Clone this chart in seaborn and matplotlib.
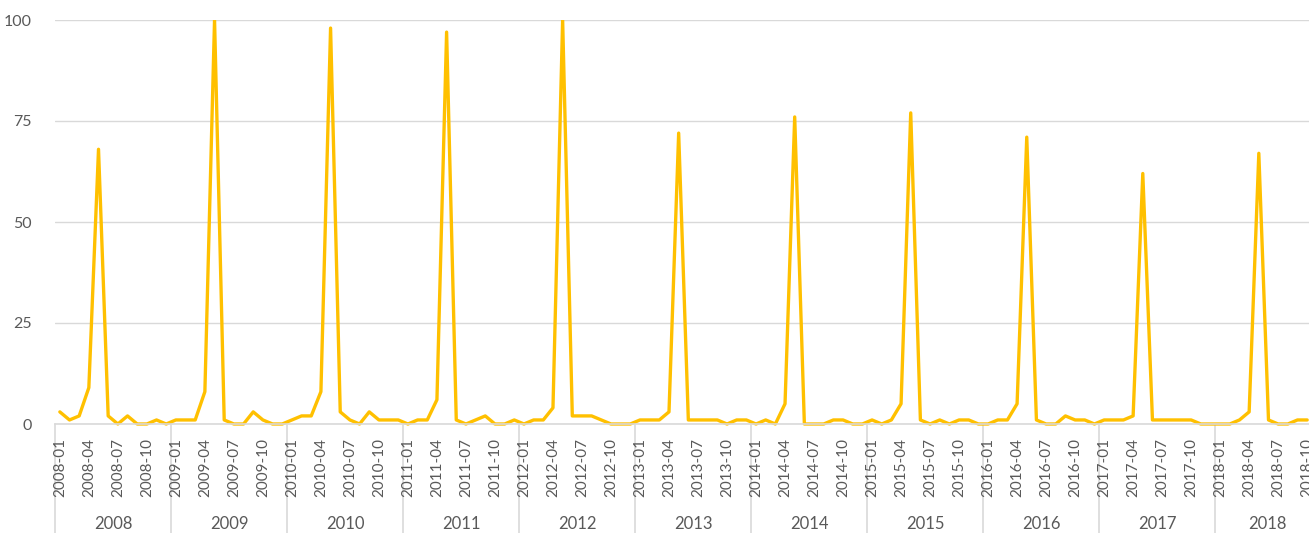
import matplotlib
matplotlib.use("Agg")
import matplotlib.pyplot as plt
from matplotlib.transforms import Bbox, TransformedBbox
import seaborn as sns
import pandas as pd

# monthly values, 2008-01 .. 2018-10
years = list(range(2008, 2019))
v2008 = [3, 1, 2, 9, 68, 2, 0, 2, 0, 0, 1, 0]
v2009 = [1, 1, 1, 8, 100, 1, 0, 0, 3, 1, 0, 0]
v2010 = [1, 2, 2, 8, 98, 3, 1, 0, 3, 1, 1, 1]
v2011 = [0, 1, 1, 6, 97, 1, 0, 1, 2, 0, 0, 1]
v2012 = [0, 1, 1, 4, 100, 2, 2, 2, 1, 0, 0, 0]
v2013 = [1, 1, 1, 3, 72, 1, 1, 1, 1, 0, 1, 1]
v2014 = [0, 1, 0, 5, 76, 0, 0, 0, 1, 1, 0, 0]
v2015 = [1, 0, 1, 5, 77, 1, 0, 1, 0, 1, 1, 0]
v2016 = [0, 1, 1, 5, 71, 1, 0, 0, 2, 1, 1, 0]
v2017 = [1, 1, 1, 2, 62, 1, 1, 1, 1, 1, 0, 0]
v2018 = [0, 0, 1, 3, 67, 1, 0, 0, 1, 1]
yticks = [0, 25, 50, 75, 100]

values = v2008 + v2009 + v2010 + v2011 + v2012 + v2013 + v2014 + v2015 + v2016 + v2017 + v2018
months = [f"{y}-{m:02d}" for y in years for m in range(1, 13)][:len(values)]
df = pd.DataFrame({"idx": range(len(values)), "month": months, "value": values})

grey = "#595959"
line_grey = "#d9d9d9"

sns.set_style("white")
plt.rcParams["font.family"] = ["Lato", "DejaVu Sans"]

fig = plt.figure(figsize=(13.09, 5.33), dpi=100)
# plot area runs a little past the right edge, as in the cropped original
ax = fig.add_axes([55 / 1309, 109 / 533, 1257 / 1309, 404 / 533])

sns.lineplot(data=df, x="idx", y="value", ax=ax, color="#FFC000", linewidth=2.4)
# clip at the top (peaks end flat at 100) but let the zero line show fully
for ln in ax.lines:
    ln.set_clip_box(TransformedBbox(Bbox([[-0.01, -0.02], [1.01, 1.0]]), ax.transAxes))

ax.set_xlim(-0.5, 129.5)
ax.set_ylim(0, 100)
ax.set_yticks(yticks)
ax.set_yticklabels([str(t) for t in yticks], fontsize=11.5, color=grey)
ax.yaxis.grid(True, color=line_grey, linewidth=1)
ax.tick_params(axis="y", length=0, pad=17)

tick_idx = list(range(0, len(values), 3))
ax.set_xticks(tick_idx)
ax.set_xticklabels([months[i] for i in tick_idx], rotation=90, fontsize=11, color=grey)
ax.tick_params(axis="x", length=0, pad=10)

for s in ["top", "right", "left"]:
    ax.spines[s].set_visible(False)
ax.spines["bottom"].set_color(line_grey)
ax.spines["bottom"].set_linewidth(1.2)
ax.set_xlabel("")
ax.set_ylabel("")

# year groups under the month labels
trans = ax.get_xaxis_transform()
n = len(values)
for k, y in enumerate(years):
    start = k * 12 - 0.5
    end = min((k + 1) * 12, n) - 0.5
    ax.plot([start, start], [0, -0.3], transform=trans, color=line_grey,
            linewidth=1.2, clip_on=False, zorder=0.5)
    ax.text((start + end) / 2 + 0.4 * (y == 2018), -0.2475, str(y), transform=trans,
            ha="center", va="center", fontsize=12, color=grey)

fig.savefig("out.png", dpi=100)
